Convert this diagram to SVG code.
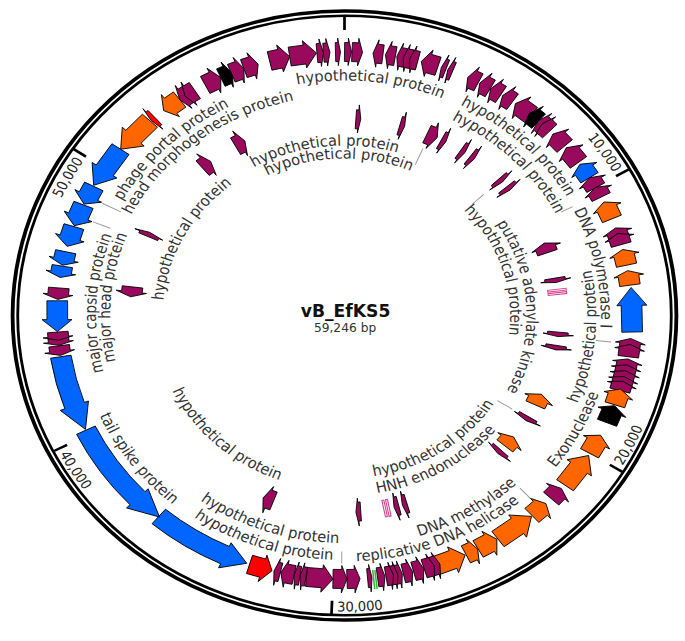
<svg xmlns="http://www.w3.org/2000/svg" xmlns:xlink="http://www.w3.org/1999/xlink" width="685" height="641" viewBox="0 0 685 641">
<style>
.gn path{stroke:#000;stroke-width:.8;stroke-linejoin:miter}
.m{fill:#990a5c}.o{fill:#ff6600}.b{fill:#0066ff}.r{fill:#ff0000}.k{fill:#000}
.lab{font-family:'DejaVu Sans Condensed','DejaVu Sans',sans-serif;font-stretch:condensed;font-size:15px;fill:#333}
.tk{font-family:'DejaVu Sans Condensed','DejaVu Sans',sans-serif;font-stretch:condensed;font-size:13.5px;fill:#222}
.ld line{stroke:#999;stroke-width:.9}
.tick line{stroke:#000;stroke-width:2.5}
</style>
<defs>
<path id="c235" d="M0,235A235,235 0 1 1 0,-235A235,235 0 1 1 0,235"/>
<path id="c236" d="M0,236A236,236 0 1 1 0,-236A236,236 0 1 1 0,236"/>
<path id="c234" d="M0,234A234,234 0 1 1 0,-234A234,234 0 1 1 0,234"/>
<path id="c220" d="M0,220A220,220 0 1 1 0,-220A220,220 0 1 1 0,220"/>
<path id="c219" d="M0,219A219,219 0 1 1 0,-219A219,219 0 1 1 0,219"/>
<path id="c228" d="M0,228A228,228 0 1 1 0,-228A228,228 0 1 1 0,228"/>
<path id="c215" d="M0,215A215,215 0 1 1 0,-215A215,215 0 1 1 0,215"/>
<path id="c170" d="M0,170A170,170 0 1 1 0,-170A170,170 0 1 1 0,170"/>
<path id="c157" d="M0,157A157,157 0 1 1 0,-157A157,157 0 1 1 0,157"/>
<path id="c167" d="M0,167A167,167 0 1 1 0,-167A167,167 0 1 1 0,167"/>
<path id="c152" d="M0,152A152,152 0 1 1 0,-152A152,152 0 1 1 0,152"/>
<path id="c285" d="M0,285A285,285 0 1 1 0,-285A285,285 0 1 1 0,285"/>
<path id="a231" d="M0,-231A231,231 0 1 0 0,231A231,231 0 1 0 0,-231"/>
<path id="a246" d="M0,-246A246,246 0 1 0 0,246A246,246 0 1 0 0,-246"/>
<path id="a227" d="M0,-227.5A227.5,227.5 0 1 0 0,227.5A227.5,227.5 0 1 0 0,-227.5"/>
<path id="a244" d="M0,-244.5A244.5,244.5 0 1 0 0,244.5A244.5,244.5 0 1 0 0,-244.5"/>
<path id="a175" d="M0,-175A175,175 0 1 0 0,175A175,175 0 1 0 0,-175"/>
<path id="a163" d="M0,-163A163,163 0 1 0 0,163A163,163 0 1 0 0,-163"/>
<path id="a180" d="M0,-180A180,180 0 1 0 0,180A180,180 0 1 0 0,-180"/>
<path id="a296" d="M0,-296A296,296 0 1 0 0,296A296,296 0 1 0 0,-296"/>
</defs>
<rect width="685" height="641" fill="#fff"/>
<g transform="translate(344.5,315.5) scale(1.09,1)">
<g id="ring" fill="none" stroke="#000">
<circle r="304.5" stroke-width="3.5"/>
<circle r="299.8" stroke-width="2.6"/>
</g>
<g id="ticks" class="tick">
<line y1="-285.5" y2="-299" transform="rotate(0)"/>
<line y1="-285.5" y2="-299" transform="rotate(60.76)"/>
<line y1="-285.5" y2="-299" transform="rotate(121.52)"/>
<line y1="-285.5" y2="-299" transform="rotate(182.29)"/>
<line y1="-285.5" y2="-299" transform="rotate(243.05)"/>
<line y1="-285.5" y2="-299" transform="rotate(303.81)"/>
<text class="tk" text-anchor="end"><textPath xlink:href="#c285" href="#c285" startOffset="1192.8">10,000</textPath></text>
<text class="tk" text-anchor="end"><textPath xlink:href="#c285" href="#c285" startOffset="610.8">50,000</textPath></text>
<text class="tk" text-anchor="start"><textPath xlink:href="#a296" href="#a296" startOffset="1236.8">20,000</textPath></text>
<text class="tk" text-anchor="start"><textPath xlink:href="#a296" href="#a296" startOffset="922.7">30,000</textPath></text>
<text class="tk" text-anchor="start"><textPath xlink:href="#a296" href="#a296" startOffset="609.1">40,000</textPath></text>
</g>
<g id="outer-genes" class="gn">
<path class="b" transform="rotate(304.25) scale(-1,1)" d="M-21.85,-273H3.85V-277.5L21.85,-263.5L3.85,-250V-254H-21.85Z"/>
<path class="o" transform="rotate(313.25) scale(-1,1)" d="M-19.55,-273H2.55V-277.5L19.55,-263.5L2.55,-250V-254H-19.55Z"/>
<path class="r" transform="rotate(318.2) scale(-1,1)" d="M-2.3,-273H0V-277.5L2.3,-263.5L0,-250V-254H-2.3Z"/>
<path class="o" transform="rotate(323) scale(-1,1)" d="M-9.2,-273H1.2V-277.5L9.2,-263.5L1.2,-250V-254H-9.2Z"/>
<path class="m" transform="rotate(326.15) scale(-1,1)" d="M-5.3,-273H0.8V-277.5L5.3,-263.5L0.8,-250V-254H-5.3Z"/>
<path class="m" transform="rotate(327.45) scale(-1,1)" d="M-5.3,-273H0.8V-277.5L5.3,-263.5L0.8,-250V-254H-5.3Z"/>
<path class="m" transform="rotate(332.75)" d="M-8.05,-273H1.05V-277.5L8.05,-263.5L1.05,-250V-254H-8.05Z"/>
<path class="k" transform="rotate(335.75)" d="M-5.75,-273H0.75V-277.5L5.75,-263.5L0.75,-250V-254H-5.75Z"/>
<path class="m" transform="rotate(338.15)" d="M-6.2,-273H1.2V-277.5L6.2,-263.5L1.2,-250V-254H-6.2Z"/>
<path class="m" transform="rotate(341)" d="M-6.9,-273H0.9V-277.5L6.9,-263.5L0.9,-250V-254H-6.9Z"/>
<path class="m" transform="rotate(346.95)" d="M-9.45,-273H0.45V-277.5L9.45,-263.5L0.45,-250V-254H-9.45Z"/>
<path class="m" transform="rotate(351.7)" d="M-12.4,-273H1.4V-277.5L12.4,-263.5L1.4,-250V-254H-12.4Z"/>
<path class="m" transform="rotate(355.15)" d="M-3,-273H0V-277.5L3,-263.5L0,-250V-254H-3Z"/>
<path class="m" transform="rotate(356.45)" d="M-3,-273H0V-277.5L3,-263.5L0,-250V-254H-3Z"/>
<path class="m" transform="rotate(358.7)" d="M-2.3,-273H0V-277.5L2.3,-263.5L0,-250V-254H-2.3Z"/>
<path class="m" transform="rotate(0.7)" d="M-3.2,-273H0.2V-277.5L3.2,-263.5L0.2,-250V-254H-3.2Z"/>
<path class="m" transform="rotate(2.55)" d="M-4.85,-273H0.85V-277.5L4.85,-263.5L0.85,-250V-254H-4.85Z"/>
<path class="m" transform="rotate(6.7) scale(-1,1)" d="M-4.6,-273H0.6V-277.5L4.6,-263.5L0.6,-250V-254H-4.6Z"/>
<path class="m" transform="rotate(9.2) scale(-1,1)" d="M-4.6,-273H0.6V-277.5L4.6,-263.5L0.6,-250V-254H-4.6Z"/>
<path class="m" transform="rotate(11.4) scale(-1,1)" d="M-4.15,-273H0.65V-277.5L4.15,-263.5L0.65,-250V-254H-4.15Z"/>
<path class="m" transform="rotate(12.7) scale(-1,1)" d="M-4.15,-273H0.65V-277.5L4.15,-263.5L0.65,-250V-254H-4.15Z"/>
<path class="m" transform="rotate(13.95) scale(-1,1)" d="M-3.9,-273H0.4V-277.5L3.9,-263.5L0.4,-250V-254H-3.9Z"/>
<path class="m" transform="rotate(17.25) scale(-1,1)" d="M-8.05,-273H1.05V-277.5L8.05,-263.5L1.05,-250V-254H-8.05Z"/>
<path class="m" transform="rotate(20.2) scale(-1,1)" d="M-2.3,-273H0V-277.5L2.3,-263.5L0,-250V-254H-2.3Z"/>
<path class="m" transform="rotate(21.6) scale(-1,1)" d="M-2.3,-273H0V-277.5L2.3,-263.5L0,-250V-254H-2.3Z"/>
<path class="m" transform="rotate(26.6) scale(-1,1)" d="M-5.5,-273H0.5V-277.5L5.5,-263.5L0.5,-250V-254H-5.5Z"/>
<path class="m" transform="rotate(29.3) scale(-1,1)" d="M-5.5,-273H0.5V-277.5L5.5,-263.5L0.5,-250V-254H-5.5Z"/>
<path class="m" transform="rotate(31.8) scale(-1,1)" d="M-5.5,-273H0.5V-277.5L5.5,-263.5L0.5,-250V-254H-5.5Z"/>
<path class="m" transform="rotate(34.6) scale(-1,1)" d="M-5.5,-273H0.5V-277.5L5.5,-263.5L0.5,-250V-254H-5.5Z"/>
<path class="m" transform="rotate(38.5) scale(-1,1)" d="M-9.2,-273H2.2V-277.5L9.2,-263.5L2.2,-250V-254H-9.2Z"/>
<path class="k" transform="rotate(41.25) scale(-1,1)" d="M-5.75,-273H0.75V-277.5L5.75,-263.5L0.75,-250V-254H-5.75Z"/>
<path class="m" transform="rotate(43.5) scale(-1,1)" d="M-5.05,-273H1.05V-277.5L5.05,-263.5L1.05,-250V-254H-5.05Z"/>
<path class="m" transform="rotate(44.5) scale(-1,1)" d="M-5.05,-273H1.05V-277.5L5.05,-263.5L1.05,-250V-254H-5.05Z"/>
<path class="m" transform="rotate(48.25) scale(-1,1)" d="M-8.05,-273H2.05V-277.5L8.05,-263.5L2.05,-250V-254H-8.05Z"/>
<path class="m" transform="rotate(52.5) scale(-1,1)" d="M-9.2,-273H2.2V-277.5L9.2,-263.5L2.2,-250V-254H-9.2Z"/>
<path class="b" transform="rotate(56.75) scale(-1,1)" d="M-8.05,-273H1.05V-277.5L8.05,-263.5L1.05,-250V-254H-8.05Z"/>
<path class="m" transform="rotate(59.75) scale(-1,1)" d="M-5.75,-273H0.75V-277.5L5.75,-263.5L0.75,-250V-254H-5.75Z"/>
<path class="m" transform="rotate(62.1) scale(-1,1)" d="M-5.5,-273H0.5V-277.5L5.5,-263.5L0.5,-250V-254H-5.5Z"/>
<path class="o" transform="rotate(66.5) scale(-1,1)" d="M-9.2,-273H2.2V-277.5L9.2,-263.5L2.2,-250V-254H-9.2Z"/>
<path class="m" transform="rotate(71.8) scale(-1,1)" d="M-5.5,-273H0.5V-277.5L5.5,-263.5L0.5,-250V-254H-5.5Z"/>
<path class="m" transform="rotate(73.15) scale(-1,1)" d="M-5.75,-273H0.75V-277.5L5.75,-263.5L0.75,-250V-254H-5.75Z"/>
<path class="o" transform="rotate(77.25) scale(-1,1)" d="M-8.05,-273H2.05V-277.5L8.05,-263.5L2.05,-250V-254H-8.05Z"/>
<path class="o" transform="rotate(81.8) scale(-1,1)" d="M-7.35,-273H1.85V-277.5L7.35,-263.5L1.85,-250V-254H-7.35Z"/>
<path class="b" transform="rotate(88.75) scale(-1,1)" d="M-22.3,-273H4.3V-277.5L22.3,-263.5L4.3,-250V-254H-22.3Z"/>
<path class="m" transform="rotate(96.25) scale(-1,1)" d="M-5.75,-273H0.75V-277.5L5.75,-263.5L0.75,-250V-254H-5.75Z"/>
<path class="m" transform="rotate(97.65) scale(-1,1)" d="M-6.2,-273H1.2V-277.5L6.2,-263.5L1.2,-250V-254H-6.2Z"/>
<path class="m" transform="rotate(100.55) scale(-1,1)" d="M-4.85,-273H0.85V-277.5L4.85,-263.5L0.85,-250V-254H-4.85Z"/>
<path class="m" transform="rotate(101.85) scale(-1,1)" d="M-4.85,-273H0.85V-277.5L4.85,-263.5L0.85,-250V-254H-4.85Z"/>
<path class="m" transform="rotate(103.15) scale(-1,1)" d="M-4.85,-273H0.85V-277.5L4.85,-263.5L0.85,-250V-254H-4.85Z"/>
<path class="m" transform="rotate(104.45) scale(-1,1)" d="M-4.85,-273H0.85V-277.5L4.85,-263.5L0.85,-250V-254H-4.85Z"/>
<path class="m" transform="rotate(105.5) scale(-1,1)" d="M-4.85,-273H0.85V-277.5L4.85,-263.5L0.85,-250V-254H-4.85Z"/>
<path class="o" transform="rotate(108) scale(-1,1)" d="M-8.3,-273H1.3V-277.5L8.3,-263.5L1.3,-250V-254H-8.3Z"/>
<path class="k" transform="rotate(112) scale(-1,1)" d="M-9.2,-273H2.2V-277.5L9.2,-263.5L2.2,-250V-254H-9.2Z"/>
<path class="o" transform="rotate(119.25) scale(-1,1)" d="M-10.35,-273H2.35V-277.5L10.35,-263.5L2.35,-250V-254H-10.35Z"/>
<path class="o" transform="rotate(126) scale(-1,1)" d="M-18.4,-273H3.4V-277.5L18.4,-263.5L3.4,-250V-254H-18.4Z"/>
<path class="m" transform="rotate(132.5) scale(-1,1)" d="M-6.9,-273H1.4V-277.5L6.9,-263.5L1.4,-250V-254H-6.9Z"/>
<path class="o" transform="rotate(137.4) scale(-1,1)" d="M-8.75,-273H1.75V-277.5L8.75,-263.5L1.75,-250V-254H-8.75Z"/>
<path class="o" transform="rotate(143.65) scale(-1,1)" d="M-19.1,-273H3.1V-277.5L19.1,-263.5L3.1,-250V-254H-19.1Z"/>
<path class="o" transform="rotate(150.15) scale(-1,1)" d="M-9.9,-273H1.9V-277.5L9.9,-263.5L1.9,-250V-254H-9.9Z"/>
<path class="o" transform="rotate(153.7) scale(-1,1)" d="M-6,-273H1V-277.5L6,-263.5L1,-250V-254H-6Z"/>
<path class="o" transform="rotate(158.4) scale(-1,1)" d="M-14.7,-273H2.7V-277.5L14.7,-263.5L2.7,-250V-254H-14.7Z"/>
<path class="m" transform="rotate(161.65) scale(-1,1)" d="M-4.85,-273H0.85V-277.5L4.85,-263.5L0.85,-250V-254H-4.85Z"/>
<path class="m" transform="rotate(162.85) scale(-1,1)" d="M-4.85,-273H0.85V-277.5L4.85,-263.5L0.85,-250V-254H-4.85Z"/>
<path class="m" transform="rotate(165.05) scale(-1,1)" d="M-4.85,-273H0.85V-277.5L4.85,-263.5L0.85,-250V-254H-4.85Z"/>
<path class="m" transform="rotate(167.25) scale(-1,1)" d="M-4.35,-273H0.85V-277.5L4.35,-263.5L0.85,-250V-254H-4.35Z"/>
<path class="m" transform="rotate(169.2) scale(-1,1)" d="M-3.7,-273H0.7V-277.5L3.7,-263.5L0.7,-250V-254H-3.7Z"/>
<path class="m" transform="rotate(170.1) scale(-1,1)" d="M-3.7,-273H0.7V-277.5L3.7,-263.5L0.7,-250V-254H-3.7Z"/>
<path class="m" transform="rotate(170.95) scale(-1,1)" d="M-3.45,-273H0.45V-277.5L3.45,-263.5L0.45,-250V-254H-3.45Z"/>
<path class="m" transform="rotate(172.65) scale(-1,1)" d="M-3.45,-273H0.45V-277.5L3.45,-263.5L0.45,-250V-254H-3.45Z"/>
<path class="m" transform="rotate(174.95) scale(-1,1)" d="M-2.05,-273H0.05V-277.5L2.05,-263.5L0.05,-250V-254H-2.05Z"/>
<path class="m" transform="rotate(178.2) scale(-1,1)" d="M-6,-273H1V-277.5L6,-263.5L1,-250V-254H-6Z"/>
<path class="m" transform="rotate(180.9) scale(-1,1)" d="M-6.45,-273H1.45V-277.5L6.45,-263.5L1.45,-250V-254H-6.45Z"/>
<path class="m" transform="rotate(184.95) scale(-1,1)" d="M-12.2,-273H2.2V-277.5L12.2,-263.5L2.2,-250V-254H-12.2Z"/>
<path class="m" transform="rotate(188.3)" d="M-2.75,-273H0.25V-277.5L2.75,-263.5L0.25,-250V-254H-2.75Z"/>
<path class="m" transform="rotate(189.5)" d="M-2.75,-273H0.25V-277.5L2.75,-263.5L0.25,-250V-254H-2.75Z"/>
<path class="m" transform="rotate(191.45)" d="M-6.2,-273H1.2V-277.5L6.2,-263.5L1.2,-250V-254H-6.2Z"/>
<path class="m" transform="rotate(193.55)" d="M-3,-273H0V-277.5L3,-263.5L0,-250V-254H-3Z"/>
<path class="r" transform="rotate(196.95) scale(-1,1)" d="M-10.8,-273H1.8V-277.5L10.8,-263.5L1.8,-250V-254H-10.8Z"/>
<path class="b" transform="rotate(210.1) scale(-1,1)" d="M-48.34,-268.69A273,273 0 0 1 26.17,-271.74L26.6,-276.22L46.66,-259.34L23.96,-248.85L24.35,-252.83A254,254 0 0 0 -44.98,-249.99Z"/>
<path class="b" transform="rotate(232.15) scale(-1,1)" d="M-56.99,-266.99A273,273 0 0 1 28.77,-271.48L29.25,-275.95L55.01,-257.69L26.35,-248.61L26.77,-252.59A254,254 0 0 0 -53.03,-248.4Z"/>
<path class="b" transform="rotate(252.7) scale(-1,1)" d="M-39.42,-270.14A273,273 0 0 1 12.86,-272.7L13.07,-277.19L38.05,-260.74L11.78,-249.72L11.97,-253.72A254,254 0 0 0 -36.68,-251.34Z"/>
<path class="m" transform="rotate(262.35) scale(-1,1)" d="M-4.85,-273H0.85V-277.5L4.85,-263.5L0.85,-250V-254H-4.85Z"/>
<path class="m" transform="rotate(264.4) scale(-1,1)" d="M-4.15,-273H0.65V-277.5L4.15,-263.5L0.65,-250V-254H-4.15Z"/>
<path class="m" transform="rotate(265.5) scale(-1,1)" d="M-4.15,-273H0.65V-277.5L4.15,-263.5L0.65,-250V-254H-4.15Z"/>
<path class="b" transform="rotate(269.85) scale(-1,1)" d="M-15.4,-273H3.4V-277.5L15.4,-263.5L3.4,-250V-254H-15.4Z"/>
<path class="m" transform="rotate(274.75) scale(-1,1)" d="M-5.75,-273H0.75V-277.5L5.75,-263.5L0.75,-250V-254H-5.75Z"/>
<path class="b" transform="rotate(279.55) scale(-1,1)" d="M-5.75,-273H0.75V-277.5L5.75,-263.5L0.75,-250V-254H-5.75Z"/>
<path class="b" transform="rotate(282.5) scale(-1,1)" d="M-6.9,-273H0.9V-277.5L6.9,-263.5L0.9,-250V-254H-6.9Z"/>
<path class="b" transform="rotate(287.45) scale(-1,1)" d="M-10.35,-273H1.35V-277.5L10.35,-263.5L1.35,-250V-254H-10.35Z"/>
<path class="b" transform="rotate(292.35) scale(-1,1)" d="M-11.25,-273H1.25V-277.5L11.25,-263.5L1.25,-250V-254H-11.25Z"/>
<path class="b" transform="rotate(297.15) scale(-1,1)" d="M-9.9,-273H0.9V-277.5L9.9,-263.5L0.9,-250V-254H-9.9Z"/>
<g stroke="#2db82d" stroke-width="1.4"><line y1="-256" y2="-275" transform="rotate(173.75)"/><line y1="-256" y2="-275" transform="rotate(174.2)"/></g>
</g>
<g id="inner-genes" class="gn">
<path class="m" transform="rotate(3.7)" d="M-2.25,-206H0V-211L2.25,-197L0,-183V-187H-2.25Z"/>
<path class="m" transform="rotate(15.6)" d="M-2.25,-206H0V-211L2.25,-197L0,-183V-187H-2.25Z"/>
<path class="m" transform="rotate(24.1)" d="M-5,-206H0V-211L5,-197L0,-183V-187H-5Z"/>
<path class="m" transform="rotate(27.5)" d="M-2.25,-206H0V-211L2.25,-197L0,-183V-187H-2.25Z"/>
<path class="m" transform="rotate(33.5)" d="M-2.25,-206H0V-211L2.25,-197L0,-183V-187H-2.25Z"/>
<path class="m" transform="rotate(36.6)" d="M-2.25,-206H0V-211L2.25,-197L0,-183V-187H-2.25Z"/>
<path class="m" transform="rotate(46.7)" d="M-2.25,-206H0V-211L2.25,-197L0,-183V-187H-2.25Z"/>
<path class="m" transform="rotate(49.8)" d="M-2.25,-206H0V-211L2.25,-197L0,-183V-187H-2.25Z"/>
<path class="m" transform="rotate(69.9) scale(-1,1)" d="M-5,-206H0V-211L5,-197L0,-183V-187H-5Z"/>
<path class="m" transform="rotate(79.7)" d="M-2.25,-206H0V-211L2.25,-197L0,-183V-187H-2.25Z"/>
<path class="m" transform="rotate(95.5)" d="M-2.25,-206H0V-211L2.25,-197L0,-183V-187H-2.25Z"/>
<path class="m" transform="rotate(99.4)" d="M-2.25,-206H0V-211L2.25,-197L0,-183V-187H-2.25Z"/>
<path class="o" transform="rotate(115.3) scale(-1,1)" d="M-6,-206H0V-211L6,-197L0,-183V-187H-6Z"/>
<path class="m" transform="rotate(121.6)" d="M-2.25,-206H0V-211L2.25,-197L0,-183V-187H-2.25Z"/>
<path class="o" transform="rotate(129.8) scale(-1,1)" d="M-6,-206H0V-211L6,-197L0,-183V-187H-6Z"/>
<path class="m" transform="rotate(133.8)" d="M-2.25,-206H0V-211L2.25,-197L0,-183V-187H-2.25Z"/>
<path class="m" transform="rotate(163.7)" d="M-2.25,-206H0V-211L2.25,-197L0,-183V-187H-2.25Z"/>
<path class="m" transform="rotate(166)" d="M-2.25,-206H0V-211L2.25,-197L0,-183V-187H-2.25Z"/>
<path class="m" transform="rotate(176.3)" d="M-2.25,-206H0V-211L2.25,-197L0,-183V-187H-2.25Z"/>
<path class="m" transform="rotate(200.8)" d="M-5,-206H0V-211L5,-197L0,-183V-187H-5Z"/>
<path class="m" transform="rotate(276.9) scale(-1,1)" d="M-5,-206H0V-211L5,-197L0,-183V-187H-5Z"/>
<path class="m" transform="rotate(294.3)" d="M-2.25,-206H0V-211L2.25,-197L0,-183V-187H-2.25Z"/>
<path class="m" transform="rotate(320)" d="M-5,-206H0V-211L5,-197L0,-183V-187H-5Z"/>
<path class="m" transform="rotate(330.9)" d="M-5,-206H0V-211L5,-197L0,-183V-187H-5Z"/>
<g fill="#fff" stroke="#d4418e" stroke-width="1">
<rect x="-2.6" y="-205" width="1.8" height="17" transform="rotate(83.1)"/>
<rect x="0.8" y="-205" width="1.8" height="17" transform="rotate(83.1)"/>
<rect x="-2.6" y="-205" width="1.8" height="17" transform="rotate(168.7)"/>
<rect x="0.8" y="-205" width="1.8" height="17" transform="rotate(168.7)"/>
</g>
</g>
<g id="connectors" class="ld">
<line y1="-224" y2="-236" transform="rotate(62.5)"/>
<line y1="-162" y2="-176" transform="rotate(46.5)"/>
<line y1="-232" y2="-246" transform="rotate(96.2)"/>
<line y1="-164" y2="-180" transform="rotate(121.3)"/>
<line y1="-236" y2="-250" transform="rotate(137)"/>
<line y1="-236" y2="-248" transform="rotate(180.6)"/>
<line y1="-232" y2="-249" transform="rotate(292.1)"/>
<line y1="-230" y2="-249" transform="rotate(296.8)"/>
<line y1="-164" y2="-182" transform="rotate(23.3)"/>
</g>
<g id="labels" class="lab" text-anchor="middle">
<text><textPath xlink:href="#c235" href="#c235" startOffset="762.3">hypothetical protein</textPath></text>
<text><textPath xlink:href="#c236" href="#c236" startOffset="919.4">hypothetical protein</textPath></text>
<text><textPath xlink:href="#c219" href="#c219" startOffset="858.1">hypothetical protein</textPath></text>
<text><textPath xlink:href="#c235" href="#c235" startOffset="1059">DNA polymerase I</textPath></text>
<text><textPath xlink:href="#c228" href="#c228" startOffset="370.5">major capsid protein</textPath></text>
<text><textPath xlink:href="#c215" href="#c215" startOffset="355.7">major head protein</textPath></text>
<text><textPath xlink:href="#c234" href="#c234" startOffset="556.2">phage portal protein</textPath></text>
<text><textPath xlink:href="#c220" href="#c220" startOffset="547.2">head morphogenesis protein</textPath></text>
<text><textPath xlink:href="#c170" href="#c170" startOffset="515.1">hypothetical protein</textPath></text>
<text><textPath xlink:href="#c157" href="#c157" startOffset="487.5">hypothetical protein</textPath></text>
<text><textPath xlink:href="#c167" href="#c167" startOffset="345.4">hypothetical protein</textPath></text>
<text><textPath xlink:href="#c167" href="#c167" startOffset="777.1">putative adenylate kinase</textPath></text>
<text><textPath xlink:href="#c152" href="#c152" startOffset="667.5">hypothetical protein</textPath></text>
<text><textPath xlink:href="#a231" href="#a231" startOffset="1066">hypothetical protein</textPath></text>
<text><textPath xlink:href="#a246" href="#a246" startOffset="1037.3">Exonuclease</textPath></text>
<text><textPath xlink:href="#a231" href="#a231" startOffset="847.1">DNA methylase</textPath></text>
<text><textPath xlink:href="#a246" href="#a246" startOffset="865.6">replicative DNA helicase</textPath></text>
<text><textPath xlink:href="#a227" href="#a227" startOffset="641.3">hypothetical protein</textPath></text>
<text><textPath xlink:href="#a244" href="#a244" startOffset="689.2">hypothetical protein</textPath></text>
<text><textPath xlink:href="#a246" href="#a246" startOffset="545.7">tail spike protein</textPath></text>
<text><textPath xlink:href="#a175" href="#a175" startOffset="420.6">hypothetical protein</textPath></text>
<text><textPath xlink:href="#a163" href="#a163" startOffset="606.7">hypothetical protein</textPath></text>
<text><textPath xlink:href="#a180" href="#a180" startOffset="659.4">HNH endonuclease</textPath></text>
</g>
<g id="title" text-anchor="middle" font-family="'DejaVu Sans Condensed','DejaVu Sans',sans-serif" font-stretch="condensed">
<text x="1" y="1.5" font-size="17.5" font-weight="bold" fill="#111">vB_EfKS5</text>
<text x="0.5" y="16.5" font-size="12.5" fill="#333">59,246 bp</text>
</g>
</g>
</svg>
